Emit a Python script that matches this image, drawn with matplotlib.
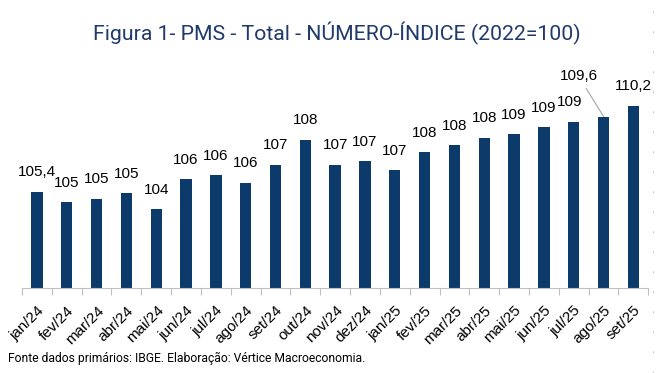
import matplotlib.pyplot as plt
from matplotlib.lines import Line2D
import numpy as np

meses = ["jan/24", "fev/24", "mar/24", "abr/24", "mai/24", "jun/24", "jul/24",
         "ago/24", "set/24", "out/24", "nov/24", "dez/24", "jan/25", "fev/25",
         "mar/25", "abr/25", "mai/25", "jun/25", "jul/25", "ago/25", "set/25"]
indice = [105.4, 104.8, 105.0, 105.3, 104.4, 106.1, 106.3, 105.9, 106.9, 108.3,
          106.9, 107.1, 106.6, 107.6, 108.0, 108.4, 108.6, 109.0, 109.3, 109.6, 110.2]
rotulos = ["105,4", "105", "105", "105", "104", "106", "106", "106", "107", "108",
           "107", "107", "107", "108", "108", "108", "109", "109", "109", "109,6", "110,2"]

azul = "#0B3A6B"
base = 100

fig = plt.figure(figsize=(6.6, 3.73), dpi=100)
ax = fig.add_axes([0.0333, 0.228, 0.949, 0.584])

x = np.arange(len(meses))
ax.bar(x, np.array(indice) - base, bottom=base, width=0.38, color=azul)
ax.set_xlim(-0.5, len(meses) - 0.5)
ax.set_ylim(base, 112.2)

for i, (v, r) in enumerate(zip(indice, rotulos)):
    if r == "109,6":
        ax.annotate(r, xy=(i, v), xytext=(-18, 24), textcoords="offset points",
                    ha="center", va="bottom", fontsize=11, family="Liberation Sans",
                    arrowprops=dict(arrowstyle="-", color="#A6A6A6", lw=0.8,
                                    shrinkA=2, shrinkB=0))
    else:
        dx = -3 if meses[i] == "jul/25" else 0
        ax.annotate(r, xy=(i, v), xytext=(dx, 9), textcoords="offset points",
                    ha="center", va="bottom", fontsize=11, family="Liberation Sans")

ax.set_xticks(x)
ax.set_xticklabels(meses, rotation=45, ha="right", rotation_mode="anchor",
                   fontsize=11, family="Liberation Sans")
ax.tick_params(axis="x", length=0, pad=11)
ax.set_xticks(np.arange(-0.5, len(meses)), minor=True)
ax.tick_params(axis="x", which="minor", length=5, color="#BFBFBF", width=0.8)
ax.set_yticks([])
for s in ["top", "right", "left"]:
    ax.spines[s].set_visible(False)
ax.spines["bottom"].set_color("#BFBFBF")
ax.spines["bottom"].set_linewidth(0.8)

fig.text(0.51, 0.91, "Figura 1- PMS - Total - NÚMERO-ÍNDICE (2022=100)",
         ha="center", va="center", fontsize=15.3, color="#1F3A6B", family="Roboto")
fig.text(0.012, 0.022, "Fonte dados primários: IBGE. Elaboração: Vértice Macroeconomia.",
         ha="left", va="bottom", fontsize=8.7, color="black", family="Roboto")

# faint dashed page border on the right
fig.add_artist(Line2D([0.99, 0.99], [0, 1], transform=fig.transFigure,
                      color="#D0D0D0", lw=0.8, dashes=(2, 16)))

fig.savefig("out.png", dpi=100)
